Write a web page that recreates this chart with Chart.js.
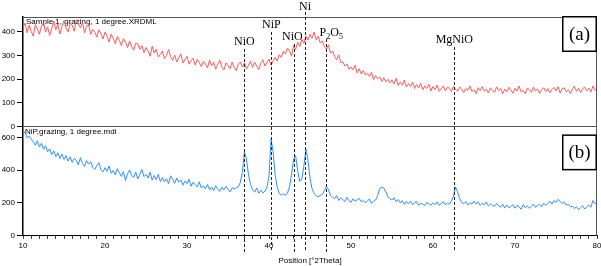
<!DOCTYPE html>
<html>
<head>
<meta charset="utf-8">
<script src="https://cdn.jsdelivr.net/npm/chart.js@4.4.1/dist/chart.umd.min.js"></script>
<style>
  html, body { margin: 0; padding: 0; background: #fff; }
  #wrap { width: 601px; height: 266px; }
</style>
</head>
<body>
<div id="wrap"><canvas id="xrd" width="601" height="266"></canvas></div>
<script>
// scan grid (°2Theta)
const scanStart = 10;
const scanStep = 0.25;

// (a) Sample 1, grazing, 1 degree — counts
const sampleA = [
  418, 436, 395, 428, 402, 381, 430, 411, 389, 424, 437, 398, 420, 384, 412, 445,
  408, 432, 390, 421, 447, 415, 398, 436, 428, 402, 451, 433, 416, 441, 395, 422,
  431, 389, 410, 398, 377, 408, 392, 369, 398, 381, 356, 390, 372, 349, 380, 364,
  341, 370, 357, 332, 361, 338, 322, 352, 348, 326, 341, 312, 333, 318, 296, 338,
  310, 326, 293, 304, 318, 286, 299, 324, 295, 279, 301, 272, 290, 306, 268, 281,
  296, 263, 277, 288, 259, 283, 270, 252, 275, 264, 247, 280, 256, 271, 242, 262,
  279, 250, 238, 268, 257, 244, 271, 249, 236, 263, 272, 251, 268, 242, 259, 276,
  249, 271, 254, 240, 266, 281, 255, 269, 284, 258, 276, 291, 275, 303, 292, 318,
  306, 331, 319, 297, 342, 325, 356, 338, 368, 351, 382, 365, 389, 372, 398, 366,
  381, 352, 361, 337, 326, 345, 309, 318, 296, 281, 302, 270, 272, 255, 264, 241,
  251, 239, 258, 226, 244, 221, 236, 217, 224, 211, 229, 198, 214, 201, 209, 190,
  206, 188, 199, 184, 197, 179, 203, 172, 188, 174, 196, 166, 181, 169, 187, 160,
  177, 162, 182, 155, 171, 160, 178, 150, 169, 155, 174, 148, 158, 171, 150, 165,
  162, 147, 169, 156, 149, 166, 158, 143, 160, 152, 171, 147, 155, 139, 164, 151,
  168, 148, 157, 141, 163, 150, 144, 167, 152, 160, 138, 158, 146, 165, 153, 140,
  161, 149, 170, 145, 152, 138, 162, 155, 144, 166, 150, 158, 139, 155, 163, 147,
  160, 142, 156, 165, 150, 168, 141, 159, 163, 146, 155, 139, 157, 170, 148, 161,
  143, 159, 166, 150, 162, 145, 171, 153, 158
];

// (b) NiP, grazing, 1 degree
const sampleB = [
  618, 635, 596, 608, 589, 574, 552, 580, 541, 563, 528, 549, 512, 530, 495, 518,
  483, 506, 472, 498, 466, 489, 455, 481, 448, 472, 461, 432, 476, 441, 423, 458,
  437, 452, 418, 405, 428, 446, 402, 389, 415, 393, 426, 381, 398, 372, 409, 385,
  362, 391, 337, 378, 402, 368, 355, 389, 347, 376, 405, 361, 374, 352, 388, 339,
  368, 342, 375, 331, 356, 329, 348, 318, 366, 344, 320, 352, 327, 341, 309, 334,
  318, 345, 302, 326, 312, 298, 329, 291, 305, 287, 313, 280, 298, 276, 306, 284,
  271, 296, 279, 302, 284, 268, 293, 286, 292, 298, 325, 385, 512, 468, 372, 312,
  281, 266, 292, 259, 278, 262, 271, 296, 365, 588, 515, 372, 296, 259, 248, 256,
  247, 261, 298, 375, 468, 488, 395, 332, 345, 425, 528, 462, 352, 287, 258, 244,
  238, 246, 252, 274, 301, 282, 247, 233, 228, 245, 216, 231, 222, 208, 235, 214,
  204, 226, 212, 219, 228, 207, 215, 201, 213, 224, 198, 209, 218, 246, 288, 297,
  291, 268, 238, 226, 218, 232, 207, 221, 201, 214, 192, 209, 196, 212, 188, 202,
  209, 186, 198, 193, 185, 204, 195, 188, 201, 190, 207, 186, 196, 208, 189, 199,
  193, 211, 242, 298, 268, 228, 202, 196, 209, 188, 201, 193, 212, 194, 206, 185,
  198, 189, 207, 182, 194, 186, 179, 197, 183, 175, 192, 169, 187, 172, 178, 191,
  168, 185, 176, 162, 190, 171, 182, 168, 179, 194, 173, 185, 192, 178, 198, 186,
  196, 210, 193, 214, 205, 222, 211, 196, 208, 187, 193, 176, 181, 166, 178, 158,
  172, 184, 163, 176, 188, 174, 215, 197, 203
];

// phase markers
const peakNames = ['NiO', 'NiP', 'NiO', 'Ni', 'P2O5', 'MgNiO'];
const peakAngles = [37.0, 40.3, 43.1, 44.4, 46.9, 62.6];

const xTicksMajor = [10, 20, 30, 40, 50, 60, 70, 80];
const yTicksA = [0, 100, 200, 300, 400];
const yTicksB = [0, 200, 400, 600];

const angles = sampleA.map((_, i) => scanStart + i * scanStep);
const toPoints = (vals) => vals.map((v, i) => ({ x: angles[i], y: v }));

// label baselines for the phase names (px)
const nameY = [45, 28, 40, 10, 36, 43];
const lineTop = [49, 32, 44, 12, 39, 47];

const decor = {
  id: 'decor',
  beforeDatasetsDraw(chart) {
    const ctx = chart.ctx;
    const a = chart.scales.yA, b = chart.scales.yB, x = chart.scales.x;
    ctx.save();
    ctx.fillStyle = '#000';
    ctx.font = '8px "Liberation Sans"';
    ctx.textBaseline = 'top';
    ctx.fillText('Sample 1, grazing, 1 degree.XRDML', x.left + 3, a.top + 1);
    ctx.fillText('NiP,grazing, 1 degree.mdi', x.left + 2, b.top + 1);
    ctx.restore();
  },
  afterDraw(chart) {
    const ctx = chart.ctx;
    const a = chart.scales.yA, b = chart.scales.yB, x = chart.scales.x;
    const area = chart.chartArea;
    ctx.save();
    // frame
    ctx.strokeStyle = '#555';
    ctx.lineWidth = 1;
    ctx.beginPath();
    ctx.moveTo(area.left, area.top + 0.5);
    ctx.lineTo(area.right - 0.5, area.top + 0.5);
    ctx.lineTo(area.right - 0.5, area.bottom);
    ctx.moveTo(area.left, Math.round(a.bottom) + 0.5);
    ctx.lineTo(area.right, Math.round(a.bottom) + 0.5);
    ctx.stroke();

    // dashed marker lines
    ctx.strokeStyle = '#222';
    ctx.setLineDash([3, 2]);
    peakAngles.forEach((ang, i) => {
      const px = Math.round(x.getPixelForValue(ang)) + 0.5;
      ctx.beginPath();
      ctx.moveTo(px, lineTop[i]);
      ctx.lineTo(px, 252);
      ctx.stroke();
    });
    ctx.setLineDash([]);

    // phase names
    ctx.fillStyle = '#000';
    ctx.textBaseline = 'alphabetic';
    peakNames.forEach((name, i) => {
      const px = x.getPixelForValue(peakAngles[i]);
      if (name === 'P2O5') {
        let cx = px - 6;
        const parts = [['P', 0], ['2', 1], ['O', 0], ['5', 1]];
        parts.forEach(([t, sub]) => {
          ctx.font = sub ? '8px "Liberation Serif"' : '12px "Liberation Serif"';
          ctx.textAlign = 'left';
          ctx.fillText(t, cx, nameY[i] + (sub ? 3 : 0));
          cx += ctx.measureText(t).width;
        });
      } else {
        ctx.font = '12px "Liberation Serif"';
        ctx.textAlign = 'center';
        ctx.fillText(name, px - (name === 'NiO' && i === 2 ? 2 : 0), nameY[i]);
      }
    });

    // panel tags
    const tag = (text, top) => {
      const w = 35, h = 36;
      const left = area.right - w;
      ctx.fillStyle = '#fff';
      ctx.fillRect(left, top, w, h);
      ctx.strokeStyle = '#000';
      ctx.lineWidth = 1.5;
      ctx.strokeRect(left + 0.75, top + 0.75, w - 1.5, h - 1.5);
      ctx.fillStyle = '#000';
      ctx.font = '19px "Liberation Serif"';
      ctx.textAlign = 'center';
      ctx.textBaseline = 'middle';
      ctx.fillText(text, left + w / 2, top + h / 2 + 1);
    };
    tag('(a)', a.top - 1);
    tag('(b)', b.top + 8);
    ctx.restore();
  }
};

const axisFont = { family: 'Liberation Sans', size: 8 };

new Chart(document.getElementById('xrd'), {
  type: 'line',
  data: {
    datasets: [
      {
        label: 'Sample 1',
        data: toPoints(sampleA),
        yAxisID: 'yA',
        borderColor: 'rgb(255, 90, 90)',
        borderWidth: 1,
        pointRadius: 0,
        tension: 0
      },
      {
        label: 'NiP',
        data: toPoints(sampleB),
        yAxisID: 'yB',
        borderColor: 'rgb(45, 145, 255)',
        borderWidth: 1,
        pointRadius: 0,
        tension: 0
      }
    ]
  },
  options: {
    responsive: false,
    animation: false,
    devicePixelRatio: 1,
    layout: { padding: { top: 17, right: 4, left: 0, bottom: 0 } },
    plugins: { legend: { display: false }, tooltip: { enabled: false } },
    scales: {
      x: {
        type: 'linear',
        min: 10,
        max: 80,
        afterFit: (s) => { s.paddingLeft = 0; s.paddingRight = 0; },
        grid: { drawOnChartArea: false, tickLength: 3, color: '#333' },
        border: { color: '#000', width: 1 },
        ticks: {
          stepSize: 1,
          maxTicksLimit: 100,
          autoSkip: false,
          maxRotation: 0,
          padding: 2,
          color: '#000',
          font: axisFont,
          callback: (v) => (xTicksMajor.includes(v) ? v : '')
        },
        title: {
          display: true,
          text: 'Position [°2Theta]',
          color: '#000',
          font: axisFont,
          padding: { top: 4, bottom: 0 }
        }
      },
      yB: {
        position: 'left',
        stack: 'xrd',
        stackWeight: 1,
        min: 0,
        max: 667,
        afterFit: (s) => { s.width = 23; },
        afterBuildTicks: (s) => { s.ticks = yTicksB.map(v => ({ value: v })); },
        grid: { drawOnChartArea: false, tickLength: 6, color: '#000' },
        border: { color: '#000', width: 1.5 },
        ticks: { padding: 2, color: '#000', font: axisFont }
      },
      yA: {
        position: 'left',
        stack: 'xrd',
        stackWeight: 1,
        min: 0,
        max: 462,
        afterFit: (s) => { s.width = 23; },
        afterBuildTicks: (s) => { s.ticks = yTicksA.map(v => ({ value: v })); },
        grid: { drawOnChartArea: false, tickLength: 6, color: '#000' },
        border: { color: '#000', width: 1.5 },
        ticks: { padding: 2, color: '#000', font: axisFont }
      }
    }
  },
  plugins: [decor]
});
</script>
</body>
</html>
